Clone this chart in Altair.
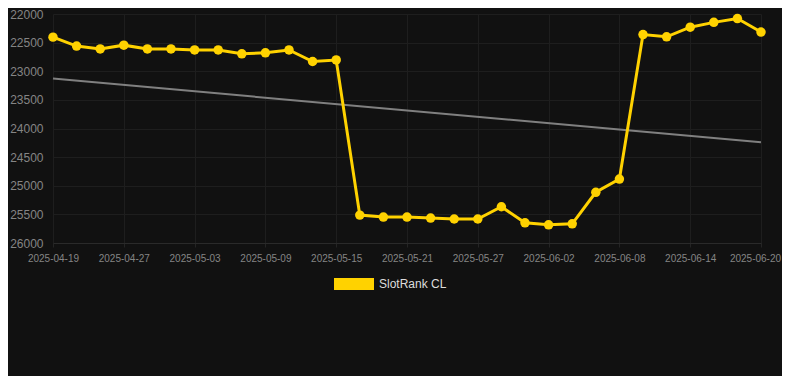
import altair as alt
import pandas as pd

dates = ["2025-04-19", "2025-04-23", "2025-04-25", "2025-04-27", "2025-04-29", "2025-05-01",
         "2025-05-03", "2025-05-05", "2025-05-07", "2025-05-09", "2025-05-11", "2025-05-13",
         "2025-05-15", "2025-05-17", "2025-05-19", "2025-05-21", "2025-05-23", "2025-05-25",
         "2025-05-27", "2025-05-29", "2025-05-31", "2025-06-02", "2025-06-04", "2025-06-06",
         "2025-06-08", "2025-06-10", "2025-06-12", "2025-06-14", "2025-06-16", "2025-06-18",
         "2025-06-20"]
ranks = [22404, 22560, 22610, 22544, 22610, 22610, 22628, 22628, 22695, 22678, 22628, 22830,
         22803, 25513, 25547, 25547, 25564, 25581, 25581, 25367, 25648, 25682, 25665, 25114,
         24884, 22359, 22399, 22230, 22146, 22079, 22315]
trend_dates = [dates[0], dates[-1]]
trend_values = [23128, 24239]
tick_dates = dates[::3]
series_name = "SlotRank CL"

df = pd.DataFrame({"date": dates, "rank": ranks, "series": series_name})
trend = pd.DataFrame({"date": trend_dates, "rank": trend_values})

YEL = "#FFD200"

x = alt.X("date:O", sort=None, title=None,
          scale=alt.Scale(type="point", padding=0, domain=dates),
          axis=alt.Axis(values=tick_dates, labelAngle=0, labelFontSize=10, labelColor="#858585",
                        labelPadding=6, ticks=True, tickColor="#242424", tickSize=4,
                        labelOffset={"condition": {"test": "datum.value == '2025-06-20'", "value": -6},
                                     "value": 0},
                        domain=True, domainColor="#2a2a2a", grid=True, gridColor="#1e1e1e"))
y = alt.Y("rank:Q", title=None,
          scale=alt.Scale(domain=[22000, 26000], reverse=True, nice=False, zero=False),
          axis=alt.Axis(values=list(range(22000, 26001, 500)), labelFontSize=12, labelColor="#858585",
                        labelPadding=10, ticks=False, domain=False, grid=True, gridColor="#1e1e1e",
                        format="d"))

trend_line = alt.Chart(trend).mark_line(color="#808080", strokeWidth=2).encode(x=x, y=y)

color = alt.Color("series:N", scale=alt.Scale(domain=[series_name], range=[YEL]),
                  legend=alt.Legend(title=None, orient="none", legendX=281, legendY=250,
                                    symbolType="M-1,-0.3H1V0.3H-1Z", symbolSize=1600,
                                    symbolStrokeWidth=0, symbolFillColor=YEL, symbolOpacity=1,
                                    labelColor="#dddddd", labelFontSize=12, labelOffset=5,
                                    labelFont="Liberation Sans"))

line = alt.Chart(df).mark_line(strokeWidth=3).encode(x=x, y=y, color=color)
pts = alt.Chart(df).mark_circle(size=90, opacity=1).encode(
    x=x, y=y,
    color=alt.Color("series:N", legend=None, scale=alt.Scale(domain=[series_name], range=[YEL])))

chart = alt.layer(trend_line, line, pts).properties(
    width=708, height=229, background="#111111",
    autosize=alt.AutoSizeParams(type="none"),
    padding={"left": 45, "top": 6, "right": 21, "bottom": 133},
).configure(font="Liberation Sans").configure_view(stroke=None)

chart.save("out.html", embed_options={"renderer": "svg", "actions": False})
